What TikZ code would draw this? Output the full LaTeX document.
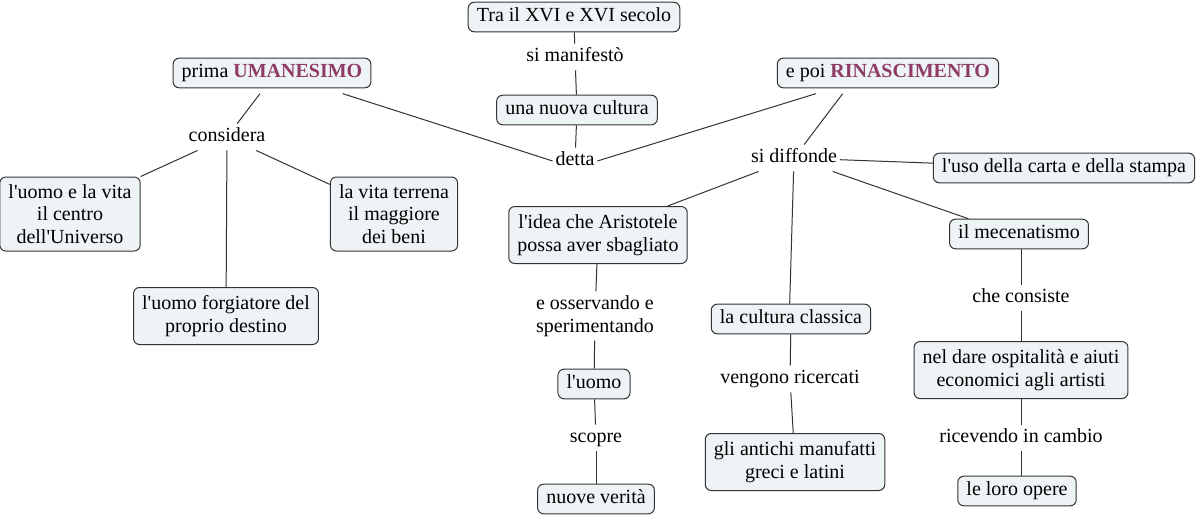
\documentclass[tikz,border=0pt]{standalone}
\usepackage{fontspec}
\newfontfamily\lserif{Liberation Serif}
\definecolor{boxfill}{HTML}{EEF4F6}
\definecolor{boxline}{HTML}{333333}
\definecolor{hl}{HTML}{8E3B65}
\begin{document}
\begin{tikzpicture}[x=0.75pt,y=-0.75pt,
  every node/.style={font=\lserif\fontsize{15}{17}\selectfont, align=center},
  cbox/.style={draw=boxline, fill=boxfill, rounded corners=4.5pt, line width=0.75pt,
    inner xsep=6.5pt, inner ysep=4.2pt},
  one/.style={text height=10.5pt, text depth=3.3pt},
  two/.style={minimum height=42.75pt},
  three/.style={minimum height=55.5pt},
  lbl/.style={inner xsep=2pt, inner ysep=3pt},
  conn/.style={draw=boxline, line width=0.75pt}]
\useasboundingbox (0,0) rectangle (1197,517);
\fill[white] (0,0) rectangle (1197,517);

% nodes
\node[cbox,one] (tra) at (574,17) {Tra il XVI e XVI secolo};
\node[lbl,one] (man) at (575,57) {si manifestò};
\node[cbox,one] (nuova) at (577,110) {una nuova cultura};
\node[cbox,one] (uman) at (272,73) {prima \textcolor{hl}{\textbf{UMANESIMO}}};
\node[cbox,one] (rin) at (888,73) {e poi \textcolor{hl}{\textbf{RINASCIMENTO}}};
\node[lbl,one] (cons) at (227,137) {considera};
\node[lbl,one] (detta) at (575,161) {detta};
\node[lbl,one] (diff) at (794,158) {si diffonde};
\node[cbox,three] (centro) at (70,214) {l'uomo e la vita\\il centro\\dell'Universo};
\node[cbox,three] (terrena) at (394,214) {la vita terrena\\il maggiore\\dei beni};
\node[cbox,two] (forg) at (226,316) {l'uomo forgiatore del\\proprio destino};
\node[cbox,one] (carta) at (1064,168) {l'uso della carta e della stampa};
\node[cbox,two] (idea) at (598,235) {l'idea che Aristotele\\possa aver sbagliato};
\node[cbox,one] (mec) at (1019,234) {il mecenatismo};
\node[lbl] (oss) at (595,316) {e osservando e\\sperimentando};
\node[cbox,one] (classica) at (791,319) {la cultura classica};
\node[lbl,one] (consiste) at (1021,298) {che consiste};
\node[cbox,two] (dare) at (1021,370) {nel dare ospitalità e aiuti\\economici agli artisti};
\node[cbox,one] (uomo) at (594,384) {l'uomo};
\node[lbl,one] (ricerc) at (790,379) {vengono ricercati};
\node[lbl,one] (ricev) at (1021,438) {ricevendo in cambio};
\node[lbl,one] (scopre) at (596,438) {scopre};
\node[cbox,two] (antichi) at (795,462) {gli antichi manufatti\\greci e latini};
\node[cbox,one] (verita) at (596,499) {nuove verità};
\node[cbox,one] (opere) at (1017,491) {le loro opere};

% connectors
\path[conn] (tra) -- (man);
\path[conn] (man) -- (nuova);
\path[conn] (nuova) -- (detta);
\path[conn] ([xshift=53pt,yshift=-4pt]uman.south) -- (detta.west);
\path[conn] ([xshift=-54pt,yshift=-4pt]rin.south) -- (detta.east);
\path[conn] ([xshift=-9pt,yshift=-4pt]uman.south) -- (cons);
\path[conn] ([xshift=-34pt,yshift=-4pt]rin.south) -- (diff);
\path[conn] (cons) -- (centro.north east);
\path[conn] (cons) -- (terrena);
\path[conn] (cons) -- (forg);
\path[conn] (diff) -- (carta);
\path[conn] (diff) -- ([xshift=-15pt]idea.north east);
\path[conn] (diff) -- ([xshift=-1pt]classica.north);
\path[conn] (diff) -- ([xshift=-38pt]mec.north);
\path[conn] (idea) -- (oss);
\path[conn] (oss) -- (uomo);
\path[conn] (uomo) -- (scopre);
\path[conn] (scopre) -- (verita);
\path[conn] (classica) -- (ricerc);
\path[conn] (ricerc) -- (antichi);
\path[conn] ([xshift=1.5pt]mec.south) -- (consiste);
\path[conn] (consiste) -- (dare);
\path[conn] (dare) -- (ricev);
\path[conn] (ricev) -- ([xshift=3pt]opere.north);
\end{tikzpicture}
\end{document}
